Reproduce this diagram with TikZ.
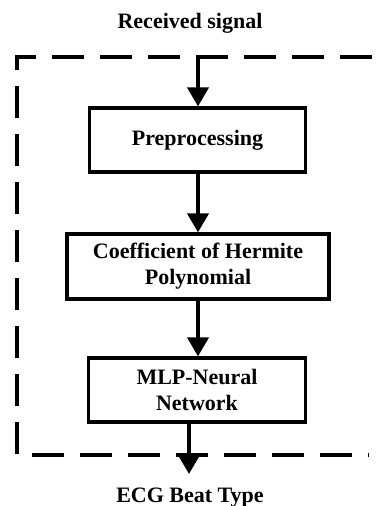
\documentclass[tikz,border=0pt]{standalone}
\usepackage{fontspec}
\setmainfont{Liberation Serif}
\usetikzlibrary{arrows.meta}
\begin{document}
\begin{tikzpicture}[x=1pt,y=-1pt,
  txt/.style={font=\fontsize{22}{26}\selectfont\bfseries, align=center, inner sep=0pt},
  stage/.style={txt, draw=black, line width=3.2pt, fill=white},
  flow/.style={line width=4pt, -{Triangle[width=21pt,length=19pt]}},
  frame/.style={line width=4pt, dash pattern=on 32pt off 16pt}]
\useasboundingbox (0,0) rectangle (381,506);
% dashed frame (open on the right)
\draw[frame] (372,57) -- (17,57) -- (17,455) -- (369,455);
% texts
\node[txt, anchor=base] (rx) at (190,28) {Received signal};
\node[txt, anchor=base] (ecg) at (190,502) {ECG Beat Type};
% stages
\node[stage, minimum width=216pt, minimum height=64pt] (pre) at (197.5,140) {Preprocessing};
\node[stage, minimum width=262pt, minimum height=65pt] (coef) at (198,266.5) {Coefficient of Hermite\\Polynomial};
\node[stage, minimum width=217pt, minimum height=64pt] (mlp) at (197,390) {MLP-Neural\\Network};
% connectors
\coordinate (in) at (198,56);
\coordinate (out) at (189,474);
\draw[flow] (in) -- (pre.north -| in);
\draw[flow] (pre.south -| in) -- (coef.north -| in);
\draw[flow] (coef.south -| in) -- (mlp.north -| in);
\draw[flow] (mlp.south -| out) -- (out);
\end{tikzpicture}
\end{document}
